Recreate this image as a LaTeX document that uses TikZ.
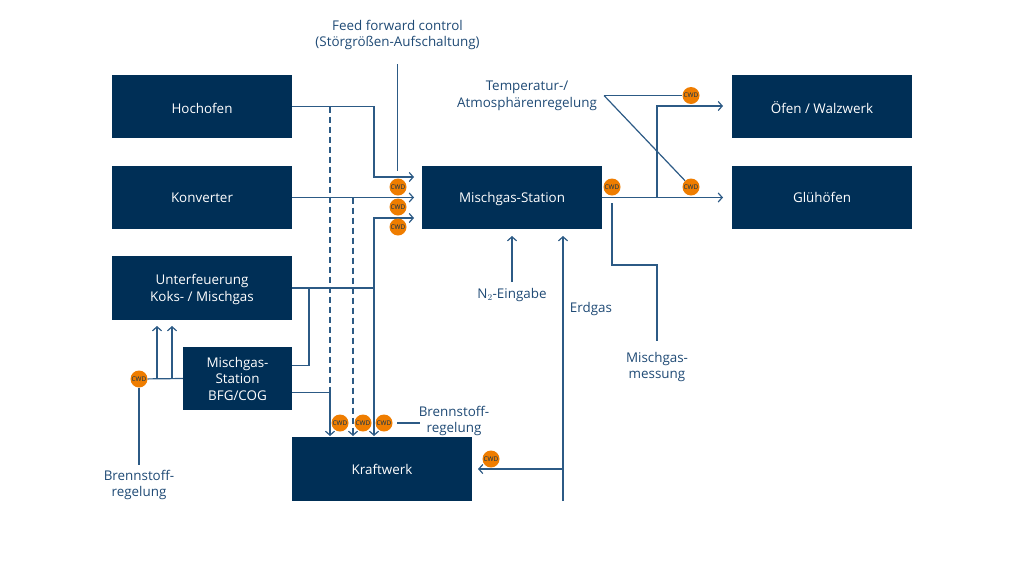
\documentclass[tikz,border=0pt]{standalone}
\usepackage{fontspec}
\setmainfont{Open Sans}
\usepackage{tikz}
\usetikzlibrary{arrows.meta}
\usetikzlibrary{calc}
\definecolor{boxblue}{HTML}{002F56}
\definecolor{lineblue}{HTML}{2C5A85}
\definecolor{labelblue}{HTML}{1F4A75}
\definecolor{cwdorange}{HTML}{EF7D00}
\tikzset{
	plant/.style={fill=boxblue,text=white,align=center,minimum width=180pt,minimum height=63.5pt,inner sep=0pt,text depth=0pt,font=\fontsize{13.4}{16.5}\selectfont},
	cwd/.style={circle,fill=cwdorange,text=boxblue,minimum size=17pt,inner sep=0pt,font=\fontsize{6.4}{7}\selectfont},
	caption/.style={text=labelblue,align=center,font=\fontsize{13.4}{16.5}\selectfont},
	pipe/.style={lineblue,line width=1.2pt,>={Straight Barb[length=4pt,width=9pt,line width=1.2pt]}},
}

\begin{document}
\begin{tikzpicture}[x=1pt,y=-1pt]
	\useasboundingbox (0,0) rectangle (1024,576);
	\node[plant,text height=13pt] at (202,106.5) (hochofen) {Hochofen};
	\node[plant,text height=9.5pt] at (202,197.5) (konverter) {Konverter};
	\node[plant,text height=26pt] at (202,288) (unterfeuerung) {Unterfeuerung\\Koks- / Mischgas};
	\node[plant,minimum width=109pt,text height=43pt] at (237.5,378.5) (bfg) {Mischgas-\\Station\\BFG/COG};
	\node[plant,text height=10pt] at (382,469) (kraftwerk) {Kraftwerk};
	\node[plant,text height=9.5pt] at (512,197.5) (station) {Mischgas-Station};
	\node[plant,text height=13pt] at (822,106.5) (oefen) {Öfen / Walzwerk};
	\node[plant,text height=9.5pt] at (822,197.5) (gluehofen) {Glühöfen};

	\node[caption] at (397.5,35) (feed) {Feed forward control\\(Störgrößen-Aufschaltung)};
	\node[caption] at (527,96) (temp) {Temperatur-/\\Atmosphärenregelung};
	\node[caption] at (512,295) (neingabe) {N$_2$-Eingabe};
	\node[caption] at (591,309) (erdgas) {Erdgas};
	\node[caption] at (657,367) (messung) {Mischgas-\\messung};
	\node[caption] at (454,421) (brennR) {Brennstoff-\\regelung};
	\node[caption] at (139,485) (brennL) {Brennstoff-\\regelung};

	\coordinate (feedtop) at (397.5,64);
	\coordinate (feedend) at (397.5,171);
	\coordinate (inA) at (414,177);
	\coordinate (inB) at (414,197.5);
	\coordinate (inC) at (414,218);
	\coordinate (tempstart) at (604,95.5);
	\coordinate (outA) at (723,106);
	\coordinate (outB) at (723,197.5);
	\coordinate (gasbottom) at (563,501);
	\coordinate (gastop) at (563,236);

	% collector lines
	\draw[pipe,->] (hochofen.east) -- (374,106.5) -- (374,177) -- (inA);
	\draw[pipe,->] (konverter.east) -- (inB);
	\draw[pipe] (unterfeuerung.east) -- (374,288);
	\draw[pipe,->] (374,288) -- (374,218) -- (inC);
	\draw[pipe,->] (374,288) -- (374,436);
	\draw[pipe] ($(bfg.east)+(0,-13)$) -- (309,365.5) -- (309,288);
	\draw[pipe,->] ($(bfg.east)+(0,14)$) -- (330,392.5) -- (330,436);
	\draw[pipe] (feedtop) -- (feedend);

	% dashed bypass
	\draw[pipe,dash pattern=on 6pt off 4pt] (330,106.5) -- (330,392);
	\draw[pipe,dash pattern=on 6pt off 4pt,->] (353,197.5) -- (353,436);

	% outlets
	\draw[pipe,->] (station.east) -- (outB);
	\draw[pipe,->] (657,197.5) -- (657,106) -- (outA);
	\draw[pipe] (612,203) -- (612,265) -- (657,265) -- (657,341);
	\draw[pipe,->] (512,282) -- (512,236);
	\draw[pipe,->] (gasbottom) -- (gastop);
	\draw[pipe,->] (563,469) -- (478,469);

	\node[cwd] at (398,187) (cwdA) {CWD};
	\node[cwd] at (398,207) (cwdB) {CWD};
	\node[cwd] at (398,227) (cwdC) {CWD};
	\node[cwd] at (612,187) (cwdD) {CWD};
	\node[cwd] at (691,95.5) (cwdE) {CWD};
	\node[cwd] at (691,187) (cwdF) {CWD};
	\node[cwd] at (340,423) (cwdG) {CWD};
	\node[cwd] at (363,423) (cwdH) {CWD};
	\node[cwd] at (384,423) (cwdI) {CWD};
	\node[cwd] at (491,459) (cwdJ) {CWD};
	\node[cwd] at (139,379) (cwdK) {CWD};

	% control lines
	\draw[pipe] (tempstart) -- (cwdE);
	\draw[pipe] (tempstart) -- (cwdF);
	\draw[pipe] (397,423) -- (420,423);
	\draw[pipe] (bfg.west) -- (cwdK);
	\draw[pipe,->] (157,378.5) -- (157,326);
	\draw[pipe,->] (172,378.5) -- (172,326);
	\draw[pipe] (cwdK) -- (139,465);
\end{tikzpicture}
\end{document}
